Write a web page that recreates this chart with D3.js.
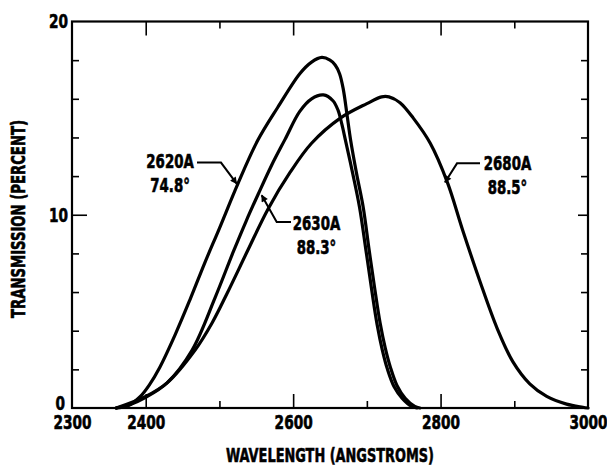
<!DOCTYPE html>
<html>
<head>
<meta charset="utf-8">
<script src="https://cdn.jsdelivr.net/npm/d3@7"></script>
<style>
  html, body { margin: 0; padding: 0; background: #fff; }
  svg { display: block; }
  text {
    font-family: "Liberation Sans Narrow", "DejaVu Sans Condensed", "Liberation Sans", sans-serif;
    font-weight: bold;
    fill: #000;
    stroke: #000;
    stroke-width: 0.6px;
  }
</style>
</head>
<body>
<svg id="chart" width="607" height="466"></svg>
<script>
// Transmission curves, wavelength in angstroms vs transmission in percent
const wl2620 = [2360, 2375, 2392, 2405, 2419, 2440, 2460, 2480, 2500, 2525, 2552, 2579, 2609, 2625, 2639, 2650, 2657, 2663, 2668, 2673, 2678, 2686, 2695, 2703, 2711, 2718, 2725, 2732, 2741, 2752, 2765, 2772];
const tr2620 = [0, 0.1, 0.57, 1.2, 2.1, 3.8, 5.6, 7.5, 9.3, 11.6, 13.85, 15.55, 17.3, 17.9, 18.14, 18.0, 17.75, 17.3, 16.5, 15.2, 13.85, 12.14, 10.4, 8.2, 6.1, 4.4, 3.1, 2.1, 1.15, 0.5, 0.08, 0];

const wl2630 = [2360, 2380, 2400, 2429, 2463, 2494, 2519, 2536, 2553, 2570, 2589, 2609, 2625, 2641, 2654, 2661, 2666, 2671, 2681, 2690, 2699, 2707, 2714, 2721, 2728, 2737, 2748, 2761, 2768];
const tr2630 = [0, 0.2, 0.55, 1.3, 3.0, 5.7, 8.1, 9.65, 11.1, 12.5, 13.9, 15.35, 16.0, 16.2, 15.9, 15.4, 14.7, 13.85, 12.1, 10.4, 8.1, 6.0, 4.3, 3.0, 2.0, 1.1, 0.5, 0.08, 0];

const wl2680 = [2360, 2400, 2429, 2467, 2490, 2510, 2539, 2566, 2596, 2625, 2664, 2700, 2720, 2730, 2745, 2763, 2786, 2809, 2830, 2853, 2877, 2898, 2921, 2944, 2971, 2993, 3000];
const tr2680 = [0, 0.6, 1.3, 3.0, 4.4, 5.9, 8.2, 10.3, 12.2, 13.7, 15.0, 15.75, 16.1, 16.1, 15.8, 15.0, 13.7, 11.7, 9.2, 6.6, 4.1, 2.4, 1.25, 0.6, 0.2, 0.04, 0];

// Axis ticks and labels
const xLabelValues = [2300, 2400, 2600, 2800, 3000];
const xMajorTicks = [2400, 2600, 2800];
const xMinorTicks = [2500, 2700, 2900];
const yLabelValues = [0, 10, 20];
const yMinorTicks = [2, 4, 6, 8, 12, 14, 16, 18];
const yMajorTicks = [10];

// Curve annotations (filter wavelength and angle), anchored in data units
const curveNames = ["2620A", "2630A", "2680A"];
const curveAngles = ["74.8°", "88.3°", "88.5°"];
const labelAt = [[2433, 12.40], [2631.7, 9.20], [2890.8, 12.30]];
const leaderPaths = [
  [[2469.6, 12.70], [2502.1, 12.70], [2523.4, 11.61]],
  [[2597.1, 9.63], [2577.7, 9.63], [2557.3, 11.01]],
  [[2853.5, 12.66], [2822.3, 12.66], [2806.0, 11.68]]
];

const svg = d3.select("#chart");
const plotLeft = 72, plotRight = 588, plotTop = 21.5, plotBottom = 408;

const x = d3.scaleLinear().domain([2300, 3000]).range([plotLeft, plotRight]);
const y = d3.scaleLinear().domain([0, 20]).range([plotBottom, plotTop]);

// squeeze text horizontally to get a tall, condensed lettering
function condense(sel, factor) {
  sel.each(function () {
    const w = this.getComputedTextLength();
    d3.select(this).attr("textLength", w * factor).attr("lengthAdjust", "spacingAndGlyphs");
  });
}

// tick marks point inward on all four sides
function tickAxis(axisFn, scale, values, size, tx, ty) {
  const g = svg.append("g")
    .attr("transform", `translate(${tx},${ty})`)
    .call(axisFn(scale).tickValues(values).tickSizeInner(-size).tickSizeOuter(0).tickFormat(""));
  g.select(".domain").remove();
  g.selectAll("line").attr("stroke", "#000").attr("stroke-width", 1.6);
}
tickAxis(d3.axisBottom, x, xMajorTicks, 14, 0, plotBottom);
tickAxis(d3.axisBottom, x, xMinorTicks, 7, 0, plotBottom);
tickAxis(d3.axisTop, x, xMajorTicks, 14, 0, plotTop);
tickAxis(d3.axisTop, x, xMinorTicks, 7, 0, plotTop);
tickAxis(d3.axisLeft, y, yMinorTicks, 7, plotLeft, 0);
tickAxis(d3.axisLeft, y, yMajorTicks, 15, plotLeft, 0);
tickAxis(d3.axisRight, y, yMinorTicks, 7, plotRight, 0);
tickAxis(d3.axisRight, y, yMajorTicks, 10, plotRight, 0);

// plot frame
svg.append("rect")
  .attr("x", plotLeft).attr("y", plotTop)
  .attr("width", plotRight - plotLeft).attr("height", plotBottom - plotTop)
  .attr("fill", "none").attr("stroke", "#000").attr("stroke-width", 2.2);

// tick labels
const xLab = svg.append("g")
  .attr("transform", `translate(0,${plotBottom})`)
  .call(d3.axisBottom(x).tickValues(xLabelValues).tickSize(0).tickPadding(7).tickFormat(d3.format("d")));
xLab.select(".domain").remove();
xLab.selectAll("text").style("font-size", "20px").call(condense, 0.76);

const yLab = svg.append("g")
  .attr("transform", `translate(${plotLeft},0)`)
  .call(d3.axisLeft(y).tickValues(yLabelValues).tickSize(0).tickPadding(4).tickFormat(d3.format("d")));
yLab.select(".domain").remove();
yLab.selectAll("text")
  .style("font-size", "20px")
  .attr("dx", d => d === 0 ? -3 : 0)
  .attr("dy", d => d === 0 ? "0.06em" : "0.32em")
  .call(condense, 0.76);

// axis titles
svg.append("text")
  .attr("x", (plotLeft + plotRight) / 2).attr("y", 462)
  .attr("text-anchor", "middle")
  .attr("textLength", 208).attr("lengthAdjust", "spacingAndGlyphs")
  .style("font-size", "20px")
  .text("WAVELENGTH (ANGSTROMS)");

svg.append("text")
  .attr("transform", "translate(25,219) rotate(-90)")
  .attr("text-anchor", "middle")
  .attr("textLength", 198).attr("lengthAdjust", "spacingAndGlyphs")
  .style("font-size", "19px")
  .text("TRANSMISSION (PERCENT)");

// curves
const line = d3.line()
  .x(d => x(d[0]))
  .y(d => y(d[1]))
  .curve(d3.curveCatmullRom.alpha(0.5));

const series = [
  d3.zip(wl2620, tr2620),
  d3.zip(wl2630, tr2630),
  d3.zip(wl2680, tr2680)
];

svg.append("g").selectAll("path")
  .data(series)
  .join("path")
  .attr("d", line)
  .attr("fill", "none")
  .attr("stroke", "#000")
  .attr("stroke-width", 3.2)
  .attr("stroke-linejoin", "round")
  .attr("stroke-linecap", "round");

// arrowhead marker for leader lines
svg.append("defs").append("marker")
  .attr("id", "arrow")
  .attr("viewBox", "0 0 10 10")
  .attr("refX", 9).attr("refY", 5)
  .attr("markerWidth", 9).attr("markerHeight", 7)
  .attr("markerUnits", "userSpaceOnUse")
  .attr("orient", "auto")
  .append("path")
  .attr("d", "M0,0 L10,5 L0,10 Z")
  .attr("fill", "#000");

const leader = d3.line().x(d => x(d[0])).y(d => y(d[1]));
svg.append("g").selectAll("path")
  .data(leaderPaths)
  .join("path")
  .attr("d", leader)
  .attr("fill", "none")
  .attr("stroke", "#000")
  .attr("stroke-width", 2)
  .attr("marker-end", "url(#arrow)");

// annotation labels
const ann = svg.append("g").selectAll("g")
  .data(curveNames)
  .join("g")
  .attr("transform", (d, i) => `translate(${x(labelAt[i][0])},${y(labelAt[i][1])})`);
ann.append("text")
  .attr("text-anchor", "middle")
  .style("font-size", "19.5px")
  .text(d => d)
  .call(condense, 0.76);
ann.append("text")
  .attr("text-anchor", "middle")
  .attr("y", 24)
  .style("font-size", "19.5px")
  .text((d, i) => curveAngles[i])
  .call(condense, 0.76);
</script>
</body>
</html>
